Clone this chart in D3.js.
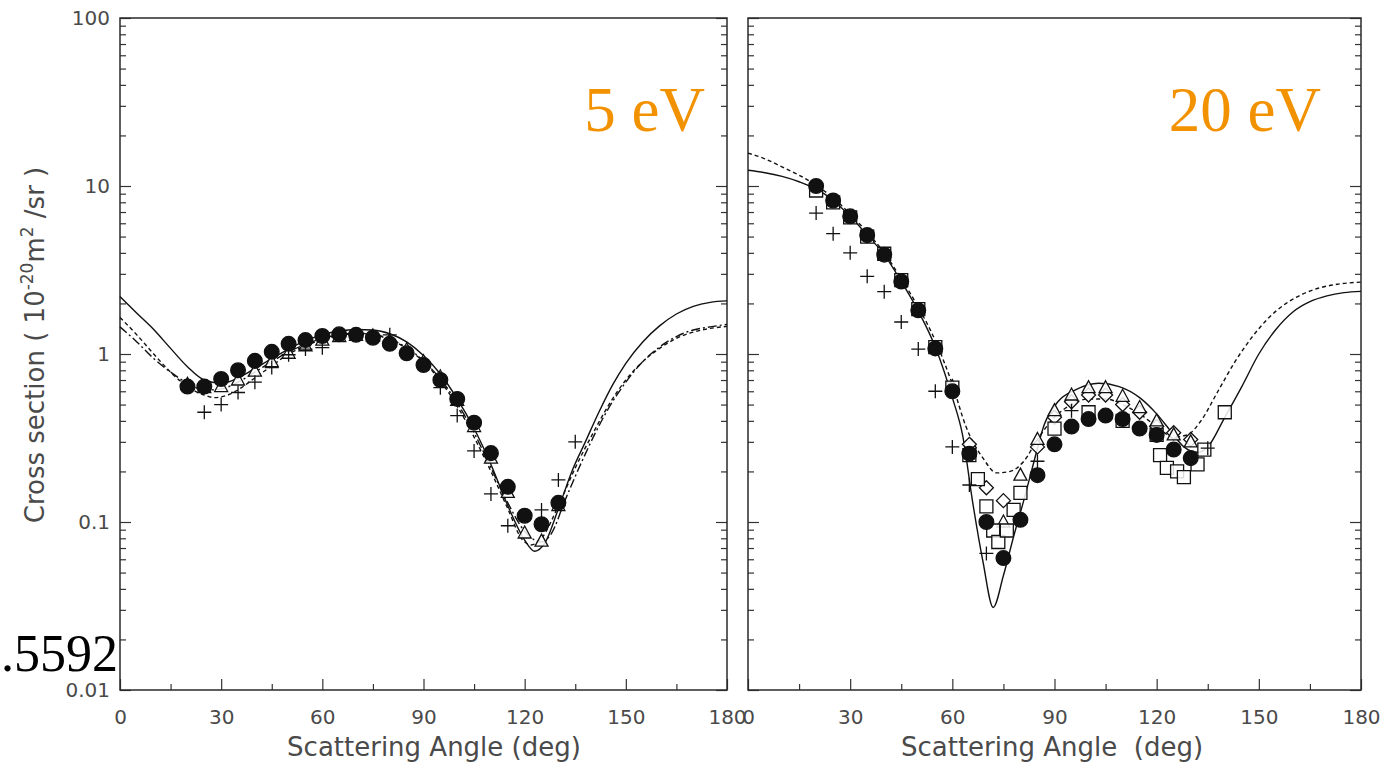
<!DOCTYPE html>
<html lang="en">
<head>
<meta charset="UTF-8">
<title>cross-section</title>
<script src="https://cdn.jsdelivr.net/npm/d3@7"></script>
<style>
  html, body { margin: 0; background: #fff; }
  svg { display: block; }
  .tick text { font-family: "DejaVu Sans", sans-serif; font-size: 20px; fill: #4a4a4a; }
  .tick line { stroke: #333; stroke-width: 1.2; }
  .frame { fill: none; stroke: #2a2a2a; stroke-width: 1.5; }
  .curve { fill: none; stroke: #111; stroke-width: 1.4; }
  .title { font-family: "DejaVu Sans", sans-serif; font-size: 26px; fill: #4a4a4a; }
</style>
</head>
<body>
<script>
// ---- 5 eV panel -------------------------------------------------------
var solid5 = [[0,2.2],[5,1.75],[10,1.4],[15,1.08],[20,0.84],[25,0.7],[30,0.67],[35,0.72],[40,0.82],[45,0.94],[50,1.07],[55,1.2],[60,1.3],[65,1.37],[70,1.4],[75,1.39],[80,1.32],[85,1.18],[90,0.98],[95,0.76],[100,0.54],[105,0.36],[110,0.22],[115,0.125],[120,0.078],[123,0.067],[126,0.075],[130,0.12],[134,0.2],[138,0.3],[142,0.45],[146,0.65],[150,0.88],[155,1.18],[160,1.47],[165,1.73],[170,1.92],[175,2.03],[180,2.07]];
var dashed5 = [[0,1.65],[5,1.3],[10,1.0],[15,0.78],[20,0.64],[25,0.57],[28,0.55],[32,0.57],[36,0.63],[40,0.72],[45,0.85],[50,1.0],[55,1.12],[60,1.22],[65,1.29],[70,1.32],[75,1.3],[80,1.22],[85,1.08],[90,0.9],[95,0.69],[100,0.49],[105,0.32],[110,0.2],[115,0.12],[119,0.08],[122,0.073],[125,0.08],[130,0.125],[135,0.21],[140,0.33],[145,0.5],[150,0.7],[155,0.9],[160,1.08],[165,1.24],[170,1.35],[175,1.42],[180,1.46]];
var dashdot5 = [[0,1.45],[5,1.18],[10,0.94],[15,0.78],[20,0.67],[25,0.61],[30,0.62],[35,0.68],[40,0.78],[45,0.9],[50,1.03],[55,1.14],[60,1.24],[65,1.3],[70,1.33],[75,1.31],[80,1.23],[85,1.09],[90,0.91],[95,0.71],[100,0.51],[105,0.34],[110,0.21],[115,0.13],[120,0.088],[125,0.076],[128,0.086],[132,0.135],[137,0.23],[141,0.34],[145,0.48],[150,0.68],[155,0.9],[160,1.1],[165,1.27],[170,1.39],[175,1.45],[180,1.5]];
var circles5 = [[20,0.64],[25,0.64],[30,0.71],[35,0.8],[40,0.91],[45,1.03],[50,1.15],[55,1.21],[60,1.28],[65,1.31],[70,1.3],[75,1.25],[80,1.15],[85,1.01],[90,0.86],[95,0.7],[100,0.54],[105,0.39],[110,0.257],[115,0.162],[120,0.109],[125,0.097],[130,0.13]];
var triangles5 = [[20,0.66],[25,0.63],[30,0.64],[35,0.7],[40,0.79],[45,0.9],[50,1.01],[55,1.12],[60,1.21],[65,1.27],[70,1.29],[75,1.28],[80,1.2],[85,1.06],[90,0.9],[95,0.73],[100,0.53],[105,0.37],[110,0.24],[115,0.15],[120,0.086],[125,0.077],[130,0.125]];
var crosses5 = [[25,0.45],[30,0.5],[35,0.59],[40,0.68],[45,0.83],[50,0.99],[55,1.07],[60,1.09],[80,1.3],[95,0.63],[100,0.43],[105,0.265],[110,0.147],[115,0.095],[125,0.118],[130,0.178],[135,0.3]];

// ---- 20 eV panel ------------------------------------------------------
var solid20 = [[0,12.4],[5,12.0],[10,11.4],[15,10.6],[20,9.6],[25,8.2],[30,6.6],[35,5.1],[40,3.9],[45,2.7],[50,1.8],[55,1.1],[60,0.55],[63,0.33],[66,0.13],[69,0.058],[72,0.031],[75,0.048],[78,0.082],[81,0.135],[84,0.23],[87,0.38],[91,0.52],[96,0.61],[103,0.67],[109,0.64],[115,0.55],[120,0.44],[124,0.35],[128,0.28],[132,0.26],[135,0.28],[140,0.42],[145,0.64],[150,1.0],[155,1.4],[160,1.78],[165,2.05],[170,2.22],[175,2.32],[180,2.36]];
var dashed20 = [[0,15.7],[5,14.5],[10,13.0],[15,11.6],[20,10.1],[25,8.5],[30,6.8],[35,5.3],[40,4.0],[45,2.8],[50,1.9],[55,1.2],[60,0.66],[64,0.37],[69,0.24],[73,0.196],[77,0.2],[81,0.23],[85,0.31],[90,0.42],[95,0.5],[100,0.54],[105,0.54],[110,0.5],[115,0.44],[120,0.37],[125,0.32],[129,0.33],[133,0.4],[138,0.6],[143,0.9],[148,1.26],[153,1.65],[158,2.0],[163,2.28],[168,2.48],[173,2.6],[180,2.68]];
var circles20 = [[20,10.0],[25,8.2],[30,6.6],[35,5.1],[40,3.9],[45,2.7],[50,1.82],[55,1.08],[60,0.6],[65,0.255],[70,0.1],[75,0.061],[80,0.103],[85,0.19],[90,0.29],[95,0.37],[100,0.41],[105,0.43],[110,0.41],[115,0.36],[120,0.33],[125,0.27],[130,0.24]];
var squares20 = [[20,9.4],[25,8.0],[30,6.5],[35,5.0],[40,3.95],[45,2.75],[50,1.85],[55,1.1],[60,0.63],[65,0.25],[67.5,0.18],[70,0.124],[72,0.089],[73.5,0.076],[76,0.089],[78,0.118],[80,0.149],[90,0.36],[100,0.45],[110,0.4],[120,0.33],[121,0.25],[123,0.21],[126,0.2],[128,0.185],[132,0.22],[134,0.27],[140,0.45]];
var triangles20 = [[60,0.64],[75,0.1],[80,0.19],[85,0.31],[90,0.46],[95,0.57],[100,0.63],[105,0.63],[110,0.56],[115,0.48],[120,0.4],[125,0.33],[130,0.3]];
var diamonds20 = [[65,0.29],[70,0.16],[75,0.134],[85,0.28],[90,0.42],[95,0.52],[100,0.57],[105,0.57],[110,0.5],[115,0.45],[120,0.37],[125,0.34],[130,0.31]];
var crosses20 = [[20,6.9],[25,5.2],[30,4.0],[35,2.9],[40,2.35],[45,1.55],[50,1.07],[55,0.6],[60,0.28],[65,0.166],[70,0.065],[85,0.23],[95,0.46],[135,0.275]];

var xMajor = [0, 30, 60, 90, 120, 150, 180];
var xMinor = [15, 45, 75, 105, 135, 165];
var yMajor = [0.01, 0.1, 1, 10, 100];
var yLabels = ['0.01', '0.1', '1', '10', '100'];

var W = 1391, H = 767;
var plotTop = 18, plotBottom = 690;

var svg = d3.select('body').append('svg')
  .attr('width', W)
  .attr('height', H);

var y = d3.scaleLog().domain([0.01, 100]).range([plotBottom, plotTop]);

var yMinor = [];
[0.01, 0.1, 1, 10].forEach(function (d) {
  for (var k = 2; k <= 9; k++) yMinor.push(d * k);
});

function noDomain(s) { s.select('.domain').remove(); }

function panel(x0, x1, showYLabels) {
  var x = d3.scaleLinear().domain([0, 180]).range([x0, x1]);
  var g = svg.append('g');

  g.append('g')
    .attr('transform', 'translate(0,' + plotBottom + ')')
    .call(d3.axisBottom(x).tickValues(xMajor).tickSize(-11).tickSizeOuter(0).tickPadding(20))
    .call(noDomain);
  g.append('g')
    .attr('transform', 'translate(0,' + plotBottom + ')')
    .call(d3.axisBottom(x).tickValues(xMinor).tickSize(-6).tickSizeOuter(0).tickFormat(''))
    .call(noDomain);

  g.append('g').attr('transform', 'translate(' + x0 + ',0)')
    .call(d3.axisLeft(y).tickValues(yMajor).tickSize(-11).tickSizeOuter(0).tickPadding(10)
      .tickFormat(function (d, i) { return showYLabels ? yLabels[i] : ''; }))
    .call(noDomain);
  g.append('g').attr('transform', 'translate(' + x0 + ',0)')
    .call(d3.axisLeft(y).tickValues(yMinor).tickSize(-6).tickSizeOuter(0).tickFormat(''))
    .call(noDomain);
  g.append('g').attr('transform', 'translate(' + x1 + ',0)')
    .call(d3.axisRight(y).tickValues(yMajor).tickSize(-11).tickSizeOuter(0).tickFormat(''))
    .call(noDomain);
  g.append('g').attr('transform', 'translate(' + x1 + ',0)')
    .call(d3.axisRight(y).tickValues(yMinor).tickSize(-6).tickSizeOuter(0).tickFormat(''))
    .call(noDomain);

  g.append('rect').attr('class', 'frame')
    .attr('x', x0).attr('y', plotTop)
    .attr('width', x1 - x0).attr('height', plotBottom - plotTop);

  return { g: g, x: x };
}

function curve(p, data, dash) {
  var line = d3.line()
    .x(function (d) { return p.x(d[0]); })
    .y(function (d) { return y(d[1]); })
    .curve(d3.curveMonotoneX);
  p.g.append('path').datum(data)
    .attr('class', 'curve')
    .attr('stroke-dasharray', dash || null)
    .attr('d', line);
}

var shapes = {
  circle: d3.symbol(d3.symbolCircle, 170)(),
  square: 'M-6.5,-6.5H6.5V6.5H-6.5Z',
  triangle: 'M0,-7L6.5,5H-6.5Z',
  diamond: 'M0,-7L7,0L0,7L-7,0Z',
  cross: 'M-7,0H7M0,-7V7'
};

function marks(p, data, kind, filled) {
  p.g.append('g').selectAll('path').data(data).join('path')
    .attr('transform', function (d) { return 'translate(' + p.x(d[0]) + ',' + y(d[1]) + ')'; })
    .attr('d', shapes[kind])
    .attr('fill', filled ? '#111' : (kind === 'cross' ? 'none' : '#fff'))
    .attr('fill-opacity', filled ? 1 : 0.85)
    .attr('stroke', '#111')
    .attr('stroke-width', 1.3);
}

var leftPanel = panel(120, 727, true);
var rightPanel = panel(748, 1361, false);

curve(leftPanel, solid5);
curve(leftPanel, dashed5, '4,3');
curve(leftPanel, dashdot5, '9,3,2,3');
marks(leftPanel, triangles5, 'triangle', false);
marks(leftPanel, crosses5, 'cross', false);
marks(leftPanel, circles5, 'circle', true);

curve(rightPanel, solid20);
curve(rightPanel, dashed20, '4,3');
marks(rightPanel, diamonds20, 'diamond', false);
marks(rightPanel, triangles20, 'triangle', false);
marks(rightPanel, squares20, 'square', false);
marks(rightPanel, crosses20, 'cross', false);
marks(rightPanel, circles20, 'circle', true);

// axis titles
svg.append('text').attr('class', 'title')
  .attr('x', 434).attr('y', 756).attr('text-anchor', 'middle')
  .text('Scattering Angle (deg)');
svg.append('text').attr('class', 'title')
  .attr('x', 1052).attr('y', 756).attr('text-anchor', 'middle')
  .attr('xml:space', 'preserve')
  .text('Scattering Angle  (deg)');

var yt = svg.append('text').attr('class', 'title')
  .attr('transform', 'translate(44,345) rotate(-90)')
  .attr('text-anchor', 'middle');
yt.append('tspan').text('Cross section ( 10');
yt.append('tspan').attr('dy', -11).attr('font-size', 17).text('-20');
yt.append('tspan').attr('dy', 11).text('m');
yt.append('tspan').attr('dy', -11).attr('font-size', 17).text('2');
yt.append('tspan').attr('dy', 11).text(' /sr )');

// energy labels
svg.append('text')
  .attr('x', 705).attr('y', 131).attr('text-anchor', 'end')
  .style('font-family', '"Liberation Serif", serif').style('font-size', '63px')
  .attr('fill', '#f39200')
  .text('5 eV');
svg.append('text')
  .attr('x', 1321).attr('y', 131).attr('text-anchor', 'end')
  .style('font-family', '"Liberation Serif", serif').style('font-size', '63px')
  .attr('fill', '#f39200')
  .text('20 eV');

svg.append('text')
  .attr('x', 118).attr('y', 671).attr('text-anchor', 'end')
  .style('font-family', '"Liberation Serif", serif').style('font-size', '52px')
  .attr('fill', '#000')
  .text('.5592');
</script>
</body>
</html>
